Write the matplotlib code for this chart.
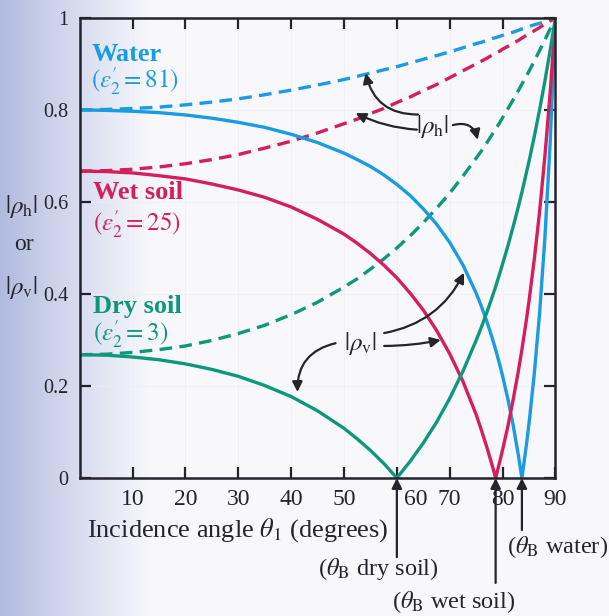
import numpy as np
import matplotlib
matplotlib.use("Agg")
import matplotlib.pyplot as plt
from matplotlib.transforms import ScaledTranslation

# incidence angle (degrees) and reflection magnitudes
theta = [0, 5, 10, 15, 20, 25, 30, 35, 40, 45, 50, 52.5, 55, 57.5, 60, 62.5, 65, 67.5, 70,
         72.5, 75, 76, 77, 78, 78.69, 79.5, 80, 81, 82, 83, 83.66, 84.5, 85, 86, 87, 88, 89, 90]

water_h = [0.800, 0.801, 0.803, 0.806, 0.811, 0.817, 0.824, 0.833, 0.843, 0.854, 0.866, 0.873,
           0.880, 0.887, 0.894, 0.902, 0.910, 0.918, 0.926, 0.935, 0.944, 0.947, 0.951, 0.955,
           0.957, 0.960, 0.962, 0.966, 0.969, 0.973, 0.976, 0.979, 0.981, 0.985, 0.988, 0.992,
           0.996, 1.000]
water_v = [0.800, 0.799, 0.797, 0.794, 0.789, 0.782, 0.773, 0.762, 0.747, 0.729, 0.706, 0.692,
           0.677, 0.659, 0.638, 0.614, 0.585, 0.552, 0.512, 0.463, 0.402, 0.373, 0.341, 0.306,
           0.279, 0.245, 0.222, 0.172, 0.115, 0.049, 0.000, 0.071, 0.118, 0.226, 0.357, 0.520,
           0.727, 1.000]
wet_h = [0.667, 0.668, 0.671, 0.676, 0.683, 0.692, 0.703, 0.717, 0.732, 0.750, 0.770, 0.780,
         0.792, 0.803, 0.816, 0.828, 0.842, 0.855, 0.870, 0.885, 0.900, 0.906, 0.912, 0.919,
         0.923, 0.928, 0.932, 0.938, 0.945, 0.951, 0.956, 0.962, 0.965, 0.972, 0.979, 0.986,
         0.993, 1.000]
wet_v = [0.667, 0.666, 0.663, 0.657, 0.650, 0.639, 0.626, 0.610, 0.589, 0.562, 0.530, 0.510,
         0.488, 0.463, 0.435, 0.402, 0.365, 0.321, 0.270, 0.210, 0.138, 0.104, 0.068, 0.029,
         0.000, 0.037, 0.061, 0.112, 0.170, 0.233, 0.279, 0.343, 0.384, 0.475, 0.578, 0.698,
         0.836, 1.000]
dry_h = [0.268, 0.269, 0.273, 0.279, 0.287, 0.299, 0.314, 0.332, 0.355, 0.382, 0.415, 0.433,
         0.454, 0.476, 0.500, 0.526, 0.555, 0.586, 0.619, 0.656, 0.695, 0.711, 0.728, 0.746,
         0.758, 0.773, 0.783, 0.802, 0.822, 0.842, 0.856, 0.873, 0.884, 0.906, 0.929, 0.952,
         0.976, 1.000]
dry_v = [0.268, 0.267, 0.263, 0.257, 0.248, 0.236, 0.221, 0.201, 0.177, 0.146, 0.108, 0.085,
         0.060, 0.032, 0.000, 0.036, 0.076, 0.121, 0.173, 0.232, 0.299, 0.328, 0.359, 0.392,
         0.416, 0.446, 0.465, 0.504, 0.546, 0.590, 0.621, 0.663, 0.688, 0.742, 0.800, 0.862,
         0.929, 1.000]

brewster = {"dry soil": 60.0, "wet soil": 78.69, "water": 83.66}

x_ticks = [10, 20, 30, 40, 50, 60, 70, 80, 90]
y_ticks = [0, 0.2, 0.4, 0.6, 0.8, 1]
y_labels = ["0", "0.2", "0.4", "0.6", "0.8", "1"]

BLUE = "#1a9be2"
RED = "#d41f5c"
GREEN = "#0e987b"
INK = "#24242e"

plt.rcParams["font.family"] = ["Liberation Serif", "DejaVu Serif"]
plt.rcParams["mathtext.fontset"] = "stix"

fig = plt.figure(figsize=(6.09, 6.16), dpi=100)
fig.patch.set_facecolor("#f9f9fc")

# bluish scan shading on the left side
bg = fig.add_axes([0, 0, 1, 1], zorder=-5)
grad = np.linspace(0, 1, 300)
shade = np.clip(grad / 0.25, 0, 1) ** 0.9
left_c = np.array([0.69, 0.73, 0.87])
right_c = np.array([0.975, 0.975, 0.99])
img = left_c[None, :] * (1 - shade[:, None]) + right_c[None, :] * shade[:, None]
bg.imshow(img[None, :, :], aspect="auto", extent=[0, 1, 0, 1])
bg.axis("off")

ax = fig.add_axes([0.131, 0.224, 0.781, 0.747])
ax.set_facecolor("none")

ax.plot(theta, water_h, color=BLUE, lw=2.4, dashes=(3.8, 2.2))
ax.plot(theta, wet_h, color=RED, lw=2.4, dashes=(3.8, 2.2))
ax.plot(theta, dry_h, color=GREEN, lw=2.4, dashes=(3.8, 2.2))
ax.plot(theta, water_v, color=BLUE, lw=2.4)
ax.plot(theta, wet_v, color=RED, lw=2.4)
ax.plot(theta, dry_v, color=GREEN, lw=2.4)

ax.set_xlim(0, 90)
ax.set_ylim(0, 1)
ax.set_xticks(x_ticks, [str(t) for t in x_ticks])
ax.set_yticks(y_ticks, y_labels)
ax.grid(True, color="#ededf3", lw=0.5)
ax.tick_params(direction="in", length=8, width=1.6, color=INK, top=True, right=True,
               labelcolor=INK)
ax.tick_params(axis="x", labelsize=17, pad=8)
ax.tick_params(axis="y", labelsize=14.5, pad=8)
for s in ax.spines.values():
    s.set_linewidth(1.8)
    s.set_color(INK)

# 60 label sits right of the Brewster arrow
for lab in ax.get_xticklabels():
    if lab.get_text() == "60":
        lab.set_transform(lab.get_transform() + ScaledTranslation(0.19, 0, fig.dpi_scale_trans))

# curve names
ax.text(2.2, 0.92, "Water", color=BLUE, fontsize=19, fontweight="bold", va="center")
ax.text(2.2, 0.862, r"$(\varepsilon_2^{\prime} = 81)$", color=BLUE, fontsize=18, va="center")
ax.text(2.5, 0.62, "Wet soil", color=RED, fontsize=19, fontweight="bold", va="center")
ax.text(2.5, 0.552, r"$(\varepsilon_2^{\prime} = 25)$", color=RED, fontsize=18, va="center")
ax.text(2.5, 0.372, "Dry soil", color=GREEN, fontsize=19, fontweight="bold", va="center")
ax.text(2.5, 0.313, r"$(\varepsilon_2^{\prime} = 3)$", color=GREEN, fontsize=18, va="center")

# y-axis label split around the tick labels
ax.text(-11, 0.589, r"$|\rho_\mathrm{h}|$", fontsize=18, color=INK, ha="center", va="center",
        clip_on=False)
ax.text(-10.5, 0.507, "or", fontsize=17, color=INK, ha="center", va="center", clip_on=False)
ax.text(-11, 0.413, r"$|\rho_\mathrm{v}|$", fontsize=18, color=INK, ha="center", va="center",
        clip_on=False)

ax.text(29.8, -0.113, r"Incidence angle $\theta_1$ (degrees)", fontsize=19, color=INK,
        ha="center", va="center", clip_on=False)

arrow = dict(arrowstyle="-|>", color=INK, lw=1.6, mutation_scale=15, shrinkA=0, shrinkB=0)

# |rho_h| callout
ax.text(66.8, 0.763, r"$|\rho_\mathrm{h}|$", fontsize=18, color=INK, ha="center", va="center")
ax.annotate("", xy=(54.1, 0.880), xytext=(64.0, 0.790),
            arrowprops=dict(arrow, connectionstyle="arc3,rad=-0.4"))
ax.annotate("", xy=(52.2, 0.793), xytext=(63.8, 0.757),
            arrowprops=dict(arrow, connectionstyle="arc3,rad=-0.1"))
ax.annotate("", xy=(75.3, 0.735), xytext=(70.6, 0.767),
            arrowprops=dict(arrow, connectionstyle="arc3,rad=-0.5"))

# |rho_v| callout
ax.text(53.1, 0.293, r"$|\rho_\mathrm{v}|$", fontsize=18, color=INK, ha="center", va="center")
ax.annotate("", xy=(41.2, 0.187), xytext=(48.4, 0.293),
            arrowprops=dict(arrow, connectionstyle="arc3,rad=0.4"))
ax.annotate("", xy=(72.7, 0.446), xytext=(57.6, 0.315),
            arrowprops=dict(arrow, connectionstyle="arc3,rad=0.25"))
ax.annotate("", xy=(68.3, 0.300), xytext=(57.6, 0.287),
            arrowprops=dict(arrow, connectionstyle="arc3,rad=0.05"))

# Brewster angle markers below the axis
ax.annotate("", xy=(brewster["dry soil"], 0.0), xytext=(brewster["dry soil"], -0.172),
            arrowprops=arrow, annotation_clip=False)
ax.annotate("", xy=(brewster["wet soil"], 0.0), xytext=(brewster["wet soil"], -0.228),
            arrowprops=arrow, annotation_clip=False)
ax.annotate("", xy=(brewster["water"], 0.0), xytext=(brewster["water"], -0.113),
            arrowprops=arrow, annotation_clip=False)
ax.text(56.5, -0.198, r"($\theta_\mathrm{B}$ dry soil)", fontsize=17.5, color=INK,
        ha="center", va="center", clip_on=False)
ax.text(70.8, -0.270, r"($\theta_\mathrm{B}$ wet soil)", fontsize=17.5, color=INK,
        ha="center", va="center", clip_on=False)
ax.text(90.4, -0.150, r"($\theta_\mathrm{B}$ water)", fontsize=17.5, color=INK,
        ha="center", va="center", clip_on=False)

fig.savefig("out.png", dpi=100)
